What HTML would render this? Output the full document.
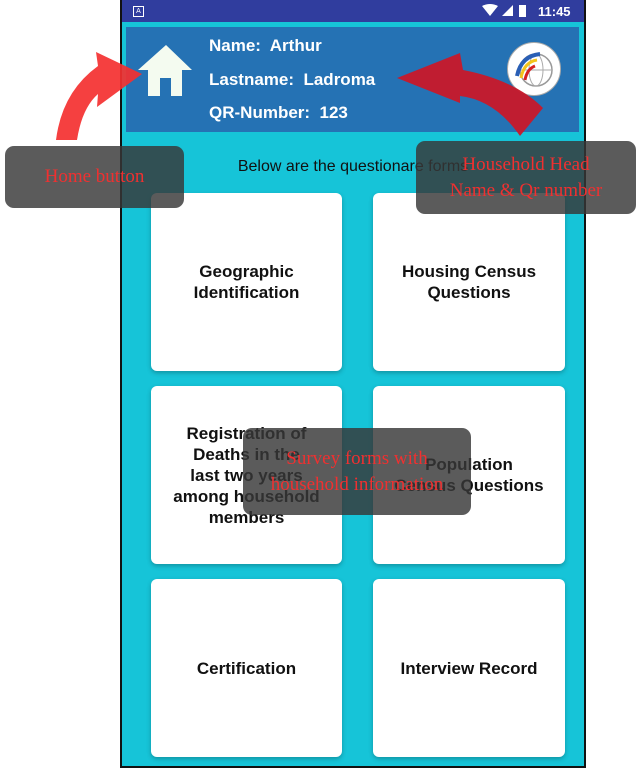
<!DOCTYPE html>
<html><head><meta charset="utf-8"><style>
body{margin:0;width:637px;height:768px;background:#fff;position:relative;overflow:hidden;font-family:"Liberation Sans",sans-serif}
.abs{position:absolute}
.card{position:absolute;background:#fff;border-radius:6px;box-shadow:0 2px 5px rgba(0,0,0,.25);display:flex;align-items:center;justify-content:center;text-align:center;font-weight:bold;font-size:17px;color:#111;line-height:21px}
.note{position:absolute;background:rgba(55,55,55,.82);border-radius:9px;color:#f03030;font-family:"Liberation Serif",serif;font-size:19px;text-align:center;display:flex;align-items:center;justify-content:center;line-height:26px}
.h{color:#fff;font-weight:bold;font-size:17px;position:absolute;left:209px}
</style></head><body>
<div class="abs" style="left:120px;top:0;width:462px;height:766px;border:2px solid #111;border-top:none;background:#16c4d8"></div>
<div class="abs" style="left:122px;top:0;width:462px;height:22px;background:#303d9e"></div>
<div class="abs" style="left:133px;top:6px;width:9px;height:9px;border:1px solid #fff;font-size:7px;color:#fff;line-height:9px;text-align:center">A</div>
<div class="abs" style="left:538px;top:4px;color:#fff;font-weight:bold;font-size:13px">11:45</div>
<svg class="abs" style="left:482px;top:4px" width="52" height="16"><path d="M0 2 Q8 -2 16 2 L8 12Z" fill="#fff"/><path d="M20 12 L31 1 L31 12Z" fill="#fff"/><rect x="37" y="1" width="7" height="12" fill="#fff"/></svg>
<div class="abs" style="left:126px;top:27px;width:453px;height:105px;background:#2572b4"></div>
<svg class="abs" style="left:130px;top:40px" width="70" height="60"><path d="M36 5 L62 30 L52 30 L52 56 L41 56 L41 38 L30 38 L30 56 L18 56 L18 30 L8 30Z" fill="#f4fbf0"/></svg>
<div class="h" style="top:36px">Name:&nbsp; Arthur</div>
<div class="h" style="top:70px">Lastname:&nbsp; Ladroma</div>
<div class="h" style="top:103px">QR-Number:&nbsp; 123</div>
<div class="abs" style="left:507px;top:42px;width:52px;height:52px;border-radius:50%;background:#fff;border:1px solid #aaa"></div>
<svg class="abs" style="left:508px;top:44px" width="50" height="50"><circle cx="28" cy="26" r="16" fill="none" stroke="#999" stroke-width="1.5"/><ellipse cx="28" cy="26" rx="7" ry="16" fill="none" stroke="#aaa"/><line x1="12" y1="26" x2="44" y2="26" stroke="#aaa"/><path d="M9 32 Q13 12 32 10" stroke="#2a5fb5" stroke-width="4" fill="none"/><path d="M13 34 Q16 18 29 16" stroke="#f3c41a" stroke-width="3" fill="none"/><path d="M17 36 Q19 25 27 22" stroke="#d62020" stroke-width="3" fill="none"/></svg>
<div class="abs" style="left:122px;top:158px;width:462px;text-align:center;font-size:16px;color:#111">Below are the questionare forms</div>
<div class="card" style="left:151px;top:193px;width:191px;height:178px">Geographic<br>Identification</div>
<div class="card" style="left:373px;top:193px;width:192px;height:178px">Housing Census<br>Questions</div>
<div class="card" style="left:151px;top:386px;width:191px;height:178px">Registration of<br>Deaths in the<br>last two years<br>among household<br>members</div>
<div class="card" style="left:373px;top:386px;width:192px;height:178px">Population<br>Census Questions</div>
<div class="card" style="left:151px;top:579px;width:191px;height:178px">Certification</div>
<div class="card" style="left:373px;top:579px;width:192px;height:178px">Interview Record</div>
<svg class="abs" style="left:0;top:0" width="637" height="768">
<path d="M56 140 Q62 92 98 66 L96 52 L142 74 L97 107 L98 94 Q82 108 77 140Z" fill="#f43030" opacity=".92"/>
<path d="M397 78 L460 53 L463 70 Q515 80 543 108 L520 136 Q495 100 460 96 L460 103Z" fill="#c8182a" opacity=".95"/>
</svg>
<div class="note" style="left:5px;top:146px;width:179px;height:62px">Home button</div>
<div class="note" style="left:416px;top:141px;width:220px;height:73px">Household Head<br>Name &amp; Qr number</div>
<div class="note" style="left:243px;top:428px;width:228px;height:87px">Survey forms with<br>household information</div>
</body></html>
